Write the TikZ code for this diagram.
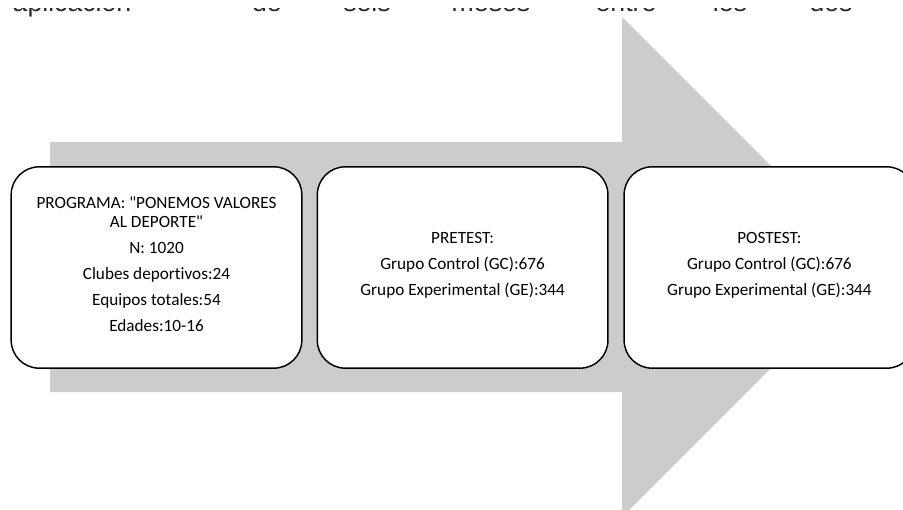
\documentclass[tikz,border=0pt]{standalone}
\usepackage{fontspec}
\setmainfont{Carlito}[Ligatures={NoCommon}]
\newfontfamily\wordfont{Liberation Sans}
\definecolor{arrowgray}{RGB}{204,204,204}
\definecolor{wordgray}{RGB}{40,40,40}
\usetikzlibrary{positioning}
\newcommand{\lowstrut}{\rule[-5pt]{0pt}{5pt}}

\begin{document}
\begin{tikzpicture}[x=0.75pt, y=-0.75pt,
  stage/.style={draw=black, fill=white, line width=1.1pt, rounded corners=21pt,
                minimum width=218pt, minimum height=151pt, align=center,
                font=\fontsize{12.9pt}{14.5pt}\selectfont},
  wordtext/.style={font=\wordfont\fontsize{20pt}{24pt}\selectfont, text=wordgray,
                   inner sep=0pt, anchor=base},
]
\useasboundingbox (0,0) rectangle (903,510);

% === Cut-off line of text at the top ===
\foreach \w/\x [count=\i] in {aplicación/72, de/267, seis/367, meses/491,
                              entre/626, los/730, dos/831}
  \node[wordtext] (w\i) at (\x,11.5) {\w};
\fill[white] (0,0) rectangle (903,8.5); % upper half lies off the page

% === Big gray arrow ===
\fill[arrowgray] (50,142) -- (622,142) -- (622,17) -- (872,267)
      -- (622,517) -- (622,392) -- (50,392) -- cycle;

% === Stages ===
\node[stage] (prog) at (156.5,267.5)
  {PROGRAMA: \textquotedbl PONEMOS VALORES\\AL DEPORTE\textquotedbl\\[5pt]
   N: 1020\\[5pt]
   Clubes deportivos:24\\[5pt]
   Equipos totales:54\\[5pt]
   Edades:10-16\lowstrut};
\node[stage, right=10.5pt of prog] (pre)
  {PRETEST:\\[5pt]
   Grupo Control (GC):676\\[5pt]
   Grupo Experimental (GE):344\lowstrut};
\node[stage, right=11pt of pre] (post)
  {POSTEST:\\[5pt]
   Grupo Control (GC):676\\[5pt]
   Grupo Experimental (GE):344\lowstrut};

\end{tikzpicture}
\end{document}
